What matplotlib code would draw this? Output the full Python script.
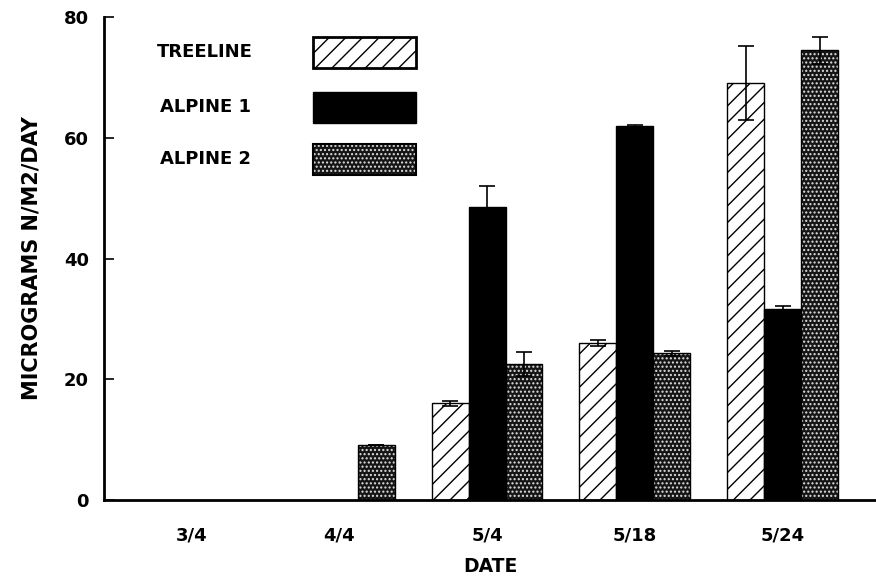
import matplotlib
matplotlib.use("Agg")
import matplotlib.pyplot as plt
from matplotlib.patches import Rectangle
import numpy as np

dates = ["3/4", "4/4", "5/4", "5/18", "5/24"]
series_names = ["TREELINE", "ALPINE 1", "ALPINE 2"]
treeline = [0, 0, 16.0, 26.0, 69.1]
treeline_err = [0, 0, 0.4, 0.5, 6.1]
alpine1 = [0, 0, 48.6, 62.0, 31.7]
alpine1_err = [0, 0, 3.5, 0.2, 0.5]
alpine2 = [0, 9.1, 22.6, 24.3, 74.5]
alpine2_err = [0, 0, 2.0, 0.4, 2.2]
yticks = [0, 20, 40, 60, 80]

plt.rcParams['font.family'] = ['DejaVu Sans']
plt.rcParams['hatch.linewidth'] = 1.0

fig = plt.figure(figsize=(8.76, 5.77), dpi=100)
ax = fig.add_axes([0.1187, 0.1334, 0.8813, 0.837])

x = np.arange(len(dates))
w = 0.25

def draw(vals, errs, off, style):
    xs = x + off
    mask = [v > 0 for v in vals]
    xs_m = [xx for xx, m in zip(xs, mask) if m]
    v_m = [v for v, m in zip(vals, mask) if m]
    e_m = [e for e, m in zip(errs, mask) if m]
    if style == "hatch":
        ax.bar(xs_m, v_m, w, facecolor='white', edgecolor='black', hatch='//', linewidth=1.0, zorder=2)
    elif style == "solid":
        ax.bar(xs_m, v_m, w, facecolor='black', edgecolor='black', linewidth=1.0, zorder=2)
    else:
        ax.bar(xs_m, v_m, w, facecolor='#151515', edgecolor='#e0e0e0', hatch='....', linewidth=0, zorder=2)
        ax.bar(xs_m, v_m, w, facecolor='none', edgecolor='black', linewidth=1.0, zorder=2.1)
    ax.errorbar(xs_m, v_m, yerr=e_m, fmt='none', ecolor='black', elinewidth=1.2,
                capsize=5.5, capthick=1.2, zorder=3)

draw(treeline, treeline_err, -w, "hatch")
draw(alpine1, alpine1_err, 0, "solid")
draw(alpine2, alpine2_err, w, "stipple")

ax.set_xlim(-0.59, 4.63)
ax.set_ylim(0, 80)
ax.set_yticks(yticks)
ax.set_xticks(x)
ax.set_xticklabels(dates)
ax.tick_params(axis='y', direction='in', length=7, width=1.2, pad=11, labelsize=13)
ax.tick_params(axis='x', length=0, pad=19, labelsize=13)
for lab in ax.get_xticklabels() + ax.get_yticklabels():
    lab.set_fontweight('bold')
for s in ['top', 'right']:
    ax.spines[s].set_visible(False)
ax.spines['left'].set_linewidth(2)
ax.spines['bottom'].set_linewidth(2)

ax.set_xlabel("DATE", fontsize=13.5, fontweight='bold', labelpad=9)
ax.set_ylabel("MICROGRAMS N/M2/DAY", fontsize=15, fontweight='bold', labelpad=16)

# legend
styles = ["hatch", "solid", "stipple"]
ys_px = [52, 107, 159]
for name, st, yp in zip(series_names, styles, ys_px):
    fy = 1 - yp / 577
    fig.text(205 / 876, fy, name, ha='center', va='center', fontsize=13, fontweight='bold')
    bx, bw, bh = 313 / 876, 103 / 876, 31 / 577
    by = fy - bh / 2
    if st == "hatch":
        fig.add_artist(Rectangle((bx, by), bw, bh, transform=fig.transFigure,
                                 facecolor='white', edgecolor='black', hatch='//', linewidth=2))
    elif st == "solid":
        fig.add_artist(Rectangle((bx, by), bw, bh, transform=fig.transFigure,
                                 facecolor='black', edgecolor='black', linewidth=1))
    else:
        fig.add_artist(Rectangle((bx, by), bw, bh, transform=fig.transFigure,
                                 facecolor='#151515', edgecolor='#e0e0e0', hatch='....', linewidth=0))
        fig.add_artist(Rectangle((bx, by), bw, bh, transform=fig.transFigure,
                                 facecolor='none', edgecolor='black', linewidth=1.5))

fig.savefig("out.png", dpi=100)
